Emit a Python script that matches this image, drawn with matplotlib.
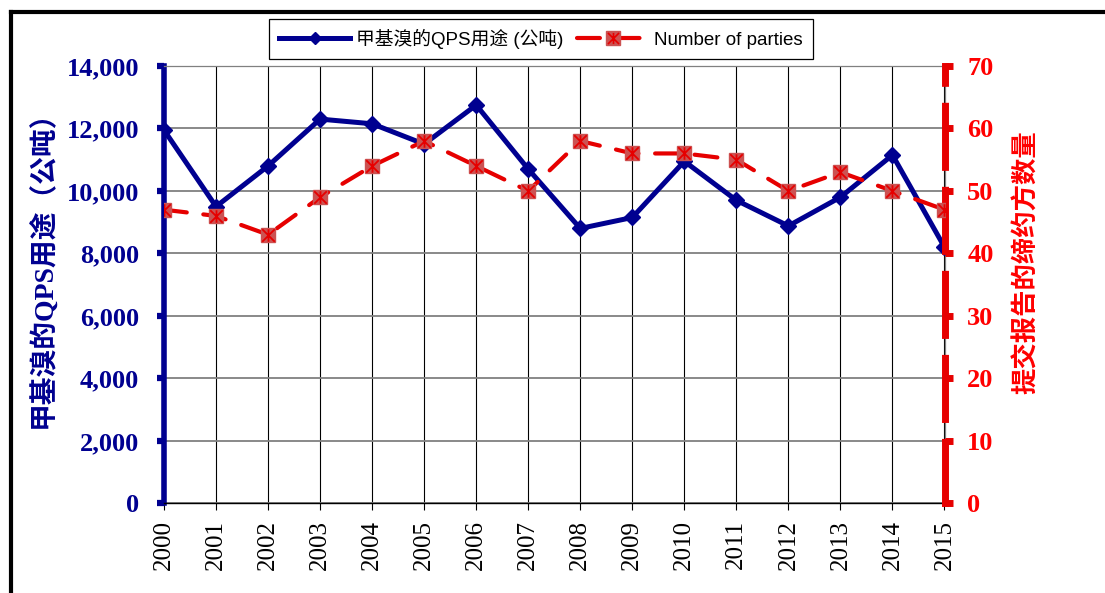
import matplotlib
matplotlib.use('Agg')
import matplotlib.pyplot as plt
from matplotlib.lines import Line2D
from matplotlib.path import Path

# ---------------- data ----------------
years = list(range(2000, 2016))
qps_usage = [11950, 9500, 10800, 12300, 12150, 11500, 12750, 10700,
             8800, 9150, 10950, 9700, 8880, 9800, 11150, 8200]
num_parties = [47, 46, 43, 49, 54, 58, 54, 50, 58, 56, 56, 55, 50, 53, 50, 47]
left_ticks = [0, 2000, 4000, 6000, 8000, 10000, 12000, 14000]
right_ticks = [0, 10, 20, 30, 40, 50, 60, 70]
legend_labels = ['甲基溴的QPS用途 (公吨)', 'Number of parties']
left_label = '甲基溴的QPS用途（公吨）'
right_label = '提交报告的缔约方数量'

# ---------------- style ----------------
NAVY = '#000090'
RED = '#E60000'
RED_TXT = '#FF0000'
SQ = '#CC5252'
SERIF = ['Liberation Serif', 'Noto Sans CJK SC']
SANS = ['Liberation Sans', 'Noto Sans CJK SC']

star = Path([(-1, -1), (1, 1), (-1, 1), (1, -1), (0, -1), (0, 1)],
            [Path.MOVETO, Path.LINETO, Path.MOVETO, Path.LINETO,
             Path.MOVETO, Path.LINETO])

W, H = 1105, 593
fig = plt.figure(figsize=(W / 100, H / 100), dpi=100)
left, right, bottom, top = 164 / W, 944.5 / W, 1 - 503.3 / H, 1 - 66 / H
ax1 = fig.add_axes([left, bottom, right - left, top - bottom])
ax2 = ax1.twinx()

ax1.plot(years, qps_usage, color=NAVY, lw=3.6, marker='D', ms=8.5,
         mfc=NAVY, mec=NAVY, zorder=3)
ax2.plot(years, num_parties, color=RED, lw=3, linestyle=(0, (5.5, 4)),
         dash_capstyle='round', marker='s', ms=10.5, mfc=SQ, mec=SQ, zorder=3)
ax2.plot(years, num_parties, ls='none', marker=star, ms=9, mec=RED,
         mew=1.3, zorder=4)

ax1.set_xlim(years[0], years[-1])
ax1.set_ylim(left_ticks[0], left_ticks[-1])
ax2.set_ylim(right_ticks[0], right_ticks[-1])

ax1.set_xticks(years, [str(y) for y in years], rotation=90,
               fontfamily='Liberation Serif', fontsize=18)
ax1.set_yticks(left_ticks, [f'{v:,}' for v in left_ticks],
               fontfamily='Liberation Serif', fontweight='bold', fontsize=19)
ax2.set_yticks(right_ticks, [str(v) for v in right_ticks],
               fontfamily='Liberation Serif', fontweight='bold', fontsize=19)

ax1.set_axisbelow(True)
ax1.grid(axis='x', color='black', lw=0.8)
ax1.grid(axis='y', color='#808080', lw=1.3)

ax1.tick_params(axis='x', length=5, width=0.8, color='black', pad=7,
                labelcolor='black')
ax1.tick_params(axis='y', length=5, width=4.5, color=NAVY, pad=13,
                labelcolor=NAVY, direction='out')
ax2.tick_params(axis='y', length=5.5, width=5, color=RED, pad=10.8,
                labelcolor=RED_TXT, direction='out')

for s in ['top', 'right']:
    ax1.spines[s].set_color('#808080')
    ax1.spines[s].set_linewidth(0.9)
ax1.spines['bottom'].set_color('black')
ax1.spines['bottom'].set_linewidth(1.0)
ax1.spines['left'].set_color(NAVY)
ax1.spines['left'].set_linewidth(4)
for s in ['top', 'bottom', 'left']:
    ax2.spines[s].set_visible(False)
ax2.spines['right'].set_color(RED)
ax2.spines['right'].set_linewidth(5)
ax2.spines['right'].set_linestyle((0, (8.8, 3.3)))

# axis titles
fig.text(43 / W, 1 - 262 / H, left_label, rotation=90, ha='center',
         va='center', color=NAVY, fontsize=20, fontweight='bold',
         family=SERIF)
fig.text(1027 / W, 1 - 262 / H, right_label, rotation=90, ha='center',
         va='center', color=RED_TXT, fontsize=19, fontweight='bold',
         family=['Noto Sans CJK SC'])

# legend
h1 = Line2D([], [], color=NAVY, lw=3.6, marker='D', ms=6, mfc=NAVY, mec=NAVY)
h2a = Line2D([], [], color=RED, lw=3, linestyle=(0, (5.5, 4)),
             dash_capstyle='round', marker='s', ms=9.5, mfc=SQ, mec=SQ)
h2b = Line2D([], [], ls='none', marker=star, ms=8, mec=RED, mew=1.2)
leg = fig.legend([h1, (h2a, h2b)], legend_labels, loc='center',
                 bbox_to_anchor=(541 / W, 1 - 39 / H), ncol=2,
                 frameon=True, fancybox=False, edgecolor='black',
                 framealpha=1, prop=dict(family=SANS, size=13.5),
                 handlelength=3.8, handletextpad=0.32, columnspacing=0.7,
                 borderpad=0.55)
leg.get_frame().set_linewidth(0.9)

# outer frame (cropped border)
fig.add_artist(Line2D([10.5 / W, 1.01], [1 - 12 / H, 1 - 12 / H],
                      transform=fig.transFigure, color='black', lw=3))
fig.add_artist(Line2D([10.5 / W, 10.5 / W], [1 - 12 / H, -0.01],
                      transform=fig.transFigure, color='black', lw=3))

fig.savefig('out.png', dpi=100)
